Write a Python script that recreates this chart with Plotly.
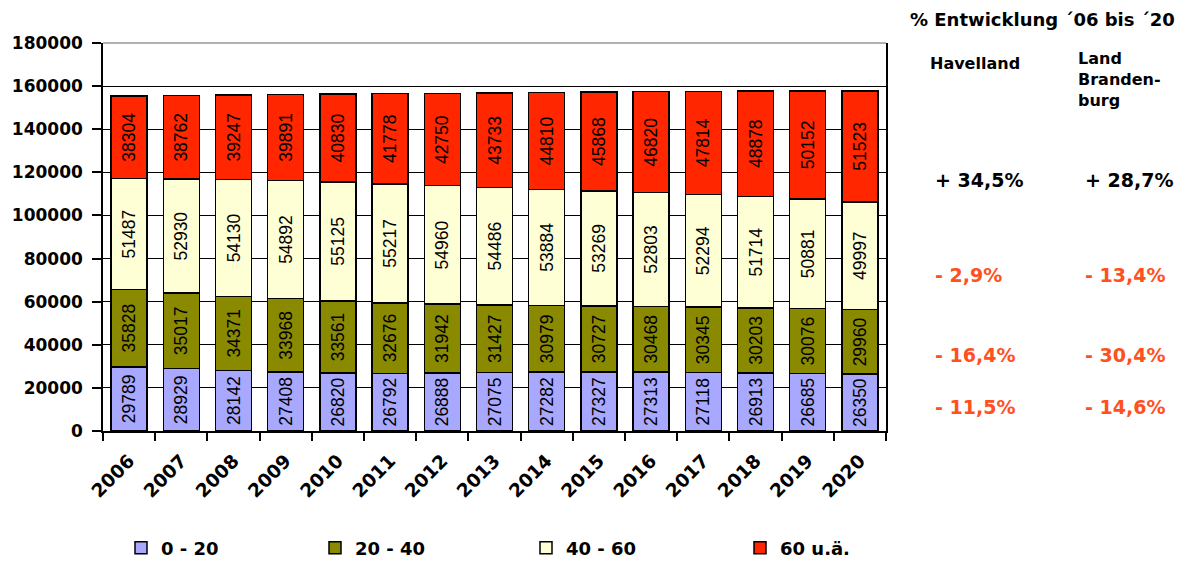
import plotly.graph_objects as go

years = [str(y) for y in range(2006, 2021)]
age_0_20 = [29789, 28929, 28142, 27408, 26820, 26792, 26888, 27075, 27282, 27327, 27313, 27118, 26913, 26685, 26350]
age_20_40 = [35828, 35017, 34371, 33968, 33561, 32676, 31942, 31427, 30979, 30727, 30468, 30345, 30203, 30076, 29960]
age_40_60 = [51487, 52930, 54130, 54892, 55125, 55217, 54960, 54486, 53884, 53269, 52803, 52294, 51714, 50881, 49997]
age_60_plus = [38304, 38762, 39247, 39891, 40830, 41778, 42750, 43733, 44810, 45868, 46820, 47814, 48878, 50152, 51523]

series_names = ["0 - 20", "20 - 40", "40 - 60", "60 u.ä."]
series_values = [age_0_20, age_20_40, age_40_60, age_60_plus]
series_colors = ["#A8A8FF", "#8A8A00", "#FFFFD6", "#FF2600"]

region_headers = ["Havelland", "Land<br>Branden-<br>burg"]
change_total = ["+ 34,5%", "+ 28,7%"]
change_40_60 = ["- 2,9%", "- 13,4%"]
change_20_40 = ["- 16,4%", "- 30,4%"]
change_0_20 = ["- 11,5%", "- 14,6%"]

BOLD = "DejaVu Sans"
REG = "Liberation Sans, Arial"

W, H = 1184, 562
L, R, T, B = 103, 298, 43, 131
PW, PH = W - L - R, H - T - B


def px(x):
    return (x - L) / PW


def py(y):
    return (H - B - y) / PH


# one legend box per series, spread along the bottom
legend_ids = ["legend", "legend2", "legend3", "legend4"]
legend_left = [121, 315, 526, 740]

fig = go.Figure()
for name, vals, col, lid in zip(series_names, series_values, series_colors, legend_ids):
    fig.add_trace(go.Bar(
        x=years, y=vals, name=name, legend=lid,
        marker=dict(color=col, line=dict(color="black", width=1.5)),
        text=vals, texttemplate="%{text}",
        textposition="inside", insidetextanchor="middle", textangle=-90,
        insidetextfont=dict(family=REG, size=17.5, color="black"),
        constraintext="none",
    ))

annotations = [
    dict(text="% Entwicklung ´06 bis ´20", x=px(1042), y=py(20), xanchor="center",
         yanchor="middle", font=dict(family=BOLD, size=18, color="black", weight="bold")),
    dict(text=region_headers[0], x=px(975), y=py(63), xanchor="center", yanchor="middle",
         font=dict(family=BOLD, size=16, color="black", weight="bold")),
    dict(text=region_headers[1], x=px(1076), y=py(79), xanchor="left", yanchor="middle",
         align="left", font=dict(family=BOLD, size=16, color="black", weight="bold")),
]
rows = [(change_total, 180, "black"), (change_40_60, 275, "#FF5020"),
        (change_20_40, 355, "#FF5020"), (change_0_20, 407, "#FF5020")]
for labels, ypos, col in rows:
    for lab, xpos in zip(labels, [933, 1083]):
        annotations.append(dict(text=lab, x=px(xpos), y=py(ypos), xanchor="left", yanchor="middle",
                                font=dict(family=BOLD, size=19, color=col, weight="bold")))
for a in annotations:
    a.update(xref="paper", yref="paper", showarrow=False)

legend_layout = {
    lid: dict(orientation="h", x=px(xl), y=py(548), xanchor="left", yanchor="middle",
              bgcolor="rgba(0,0,0,0)",
              font=dict(family=BOLD, size=18, color="black", weight="bold"))
    for lid, xl in zip(legend_ids, legend_left)
}

fig.update_layout(
    barmode="stack", bargap=0.31,
    width=W, height=H,
    margin=dict(l=L, r=R, t=T, b=B, pad=0, autoexpand=False),
    paper_bgcolor="white", plot_bgcolor="white",
    showlegend=True,
    annotations=annotations,
    shapes=[dict(type="line", xref="paper", yref="paper", x0=0, x1=1, y0=1, y1=1,
                 line=dict(color="#999999", width=1.5))],
    **legend_layout,
)
fig.update_xaxes(
    type="category", showline=True, linecolor="black", linewidth=1.5,
    ticks="outside", tickson="boundaries", ticklen=8, tickcolor="black", tickwidth=1.5,
    tickangle=-45, ticklabelstandoff=10,
    tickfont=dict(family=BOLD, size=18.5, color="black", weight="bold"),
    showgrid=False,
)
fig.update_yaxes(
    range=[0, 180000], dtick=20000, showline=True, linecolor="black", linewidth=1.5,
    mirror=True, ticks="outside", ticklen=9, tickcolor="black", tickwidth=1.5,
    showgrid=True, gridcolor="black", gridwidth=1, zeroline=False,
    tickformat="d", ticklabelstandoff=6,
    tickfont=dict(family=BOLD, size=17, color="black", weight="bold"),
)

fig.write_html("out.html")
